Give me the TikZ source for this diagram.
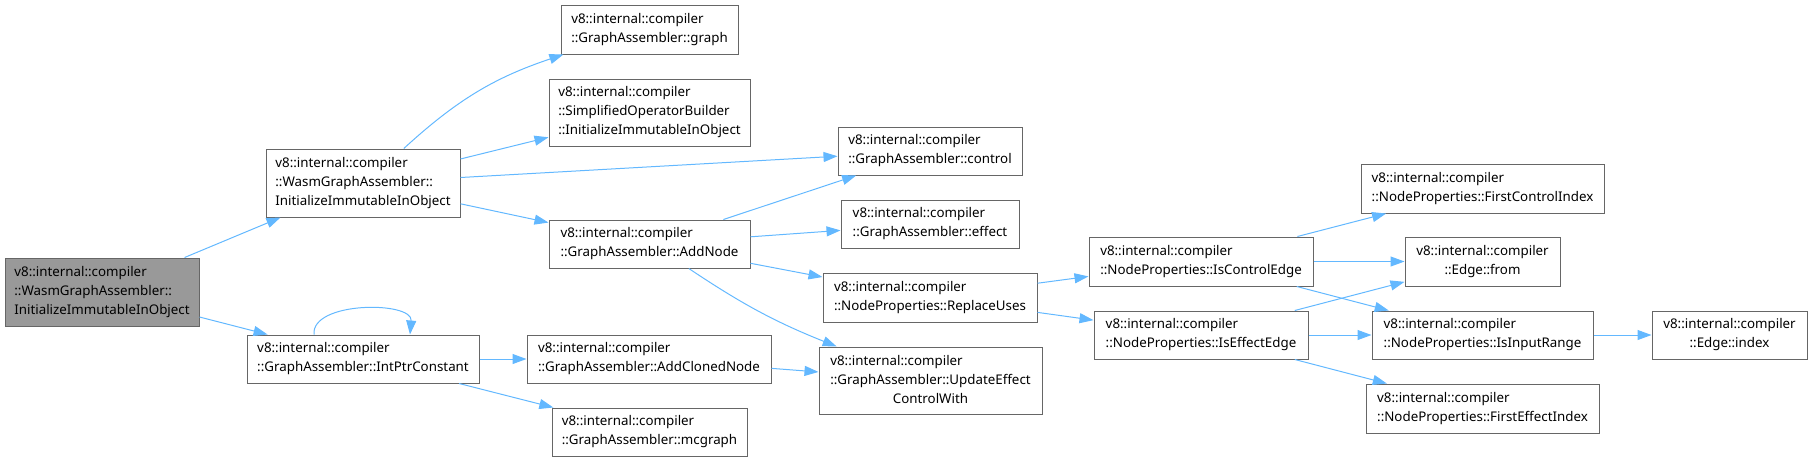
\documentclass[tikz,border=0pt]{standalone}
\usepackage{fontspec}
\setmainfont{Noto Sans}
\usetikzlibrary{arrows.meta}
\definecolor{edgeblue}{HTML}{63B8FF}
\definecolor{boxgray}{HTML}{666666}
\definecolor{rootgray}{HTML}{999999}
\tikzset{
  fnbox/.style={rectangle, draw=boxgray, fill=white, line width=0.75pt, align=left,
    inner sep=2pt, font=\fontsize{10pt}{14.25pt}\selectfont},
  rootbox/.style={fnbox, fill=rootgray},
  centerbox/.style={fnbox, align=center},
  callarrow/.style={-{Triangle[length=10.5pt,width=7.5pt]}, draw=edgeblue, line width=0.75pt}
}

\begin{document}
\begin{tikzpicture}[x=0.75pt, y=-0.75pt]
  \useasboundingbox (0,0) rectangle (1812,462);

  \node[rootbox, minimum width=145.5pt, minimum height=51pt] (root) at (102,292)
        {v8::internal::compiler\\::WasmGraphAssembler::\\InitializeImmutableInObject};
  \node[fnbox, minimum width=145.5pt, minimum height=51pt] (wgainit) at (363,183)
        {v8::internal::compiler\\::WasmGraphAssembler::\\InitializeImmutableInObject};
  \node[fnbox, minimum width=174pt, minimum height=36pt] (intptr) at (363,359)
        {v8::internal::compiler\\::GraphAssembler::IntPtrConstant};

  \node[fnbox, minimum width=132.75pt, minimum height=36.75pt] (graph) at (649.5,29.5)
        {v8::internal::compiler\\::GraphAssembler::graph};
  \node[fnbox, minimum width=150.75pt, minimum height=50.25pt] (sob) at (649.5,112.5)
        {v8::internal::compiler\\::SimplifiedOperatorBuilder\\::InitializeImmutableInObject};
  \node[fnbox, minimum width=150.75pt, minimum height=36pt] (addnode) at (649.5,244)
        {v8::internal::compiler\\::GraphAssembler::AddNode};
  \node[fnbox, minimum width=183pt, minimum height=36pt] (clonednode) at (649,359)
        {v8::internal::compiler\\::GraphAssembler::AddClonedNode};
  \node[fnbox, minimum width=146.25pt, minimum height=36pt] (mcgraph) at (649.5,432)
        {v8::internal::compiler\\::GraphAssembler::mcgraph};

  \node[fnbox, minimum width=138pt, minimum height=36pt] (control) at (930,151)
        {v8::internal::compiler\\::GraphAssembler::control};
  \node[fnbox, minimum width=133.5pt, minimum height=36pt] (effect) at (930,224)
        {v8::internal::compiler\\::GraphAssembler::effect};
  \node[fnbox, minimum width=160.5pt, minimum height=36.75pt] (replaceuses) at (930,297.5)
        {v8::internal::compiler\\::NodeProperties::ReplaceUses};
  \node[fnbox, minimum width=167.25pt, minimum height=50.25pt] (updateeffect) at (930.5,380.5)
        {\begin{tabular}{@{}l@{}}v8::internal::compiler\\::GraphAssembler::UpdateEffect\\
         \multicolumn{1}{@{}c@{}}{ControlWith}\end{tabular}};

  \node[fnbox, minimum width=168pt, minimum height=36.75pt] (iscontroledge) at (1201,261.5)
        {v8::internal::compiler\\::NodeProperties::IsControlEdge};
  \node[fnbox, minimum width=160.5pt, minimum height=36pt] (iseffectedge) at (1201,335)
        {v8::internal::compiler\\::NodeProperties::IsEffectEdge};

  \node[fnbox, minimum width=182.25pt, minimum height=36.75pt] (firstcontrolindex) at (1482.5,188.5)
        {v8::internal::compiler\\::NodeProperties::FirstControlIndex};
  \node[centerbox, minimum width=116.25pt, minimum height=36.75pt] (from) at (1482.5,261.5)
        {v8::internal::compiler\\::Edge::from};
  \node[fnbox, minimum width=165.75pt, minimum height=36pt] (isinputrange) at (1482.5,335)
        {v8::internal::compiler\\::NodeProperties::IsInputRange};
  \node[fnbox, minimum width=174.75pt, minimum height=36.75pt] (firsteffectindex) at (1482.5,408.5)
        {v8::internal::compiler\\::NodeProperties::FirstEffectIndex};
  \node[centerbox, minimum width=116.25pt, minimum height=36pt] (index) at (1729.5,335)
        {v8::internal::compiler\\::Edge::index};

  % calls
  \draw[callarrow] (root) -- (wgainit);
  \draw[callarrow] (root) -- (intptr);
  \draw[callarrow] (wgainit) to[bend left=12] (graph);
  \draw[callarrow] (wgainit) -- (sob);
  \draw[callarrow] (wgainit) -- (control);
  \draw[callarrow] (wgainit) -- (addnode);
  \draw[callarrow] ([xshift=-36.75pt]intptr.north) to[out=95,in=85,looseness=0.9] ([xshift=35.25pt]intptr.north);
  \draw[callarrow] (intptr) -- (clonednode);
  \draw[callarrow] (intptr) -- (mcgraph);
  \draw[callarrow] (addnode) -- (control);
  \draw[callarrow] (addnode) -- (effect);
  \draw[callarrow] (addnode) -- (replaceuses);
  \draw[callarrow] (addnode) to[bend right=6] (updateeffect);
  \draw[callarrow] (clonednode) -- (updateeffect);
  \draw[callarrow] (replaceuses) -- (iscontroledge);
  \draw[callarrow] (replaceuses) -- (iseffectedge);
  \draw[callarrow] (iscontroledge) -- (firstcontrolindex);
  \draw[callarrow] (iscontroledge) -- (from);
  \draw[callarrow] (iscontroledge) -- (isinputrange);
  \draw[callarrow] (iseffectedge) -- (from);
  \draw[callarrow] (iseffectedge) -- (isinputrange);
  \draw[callarrow] (iseffectedge) -- (firsteffectindex);
  \draw[callarrow] (isinputrange) -- (index);
\end{tikzpicture}
\end{document}
